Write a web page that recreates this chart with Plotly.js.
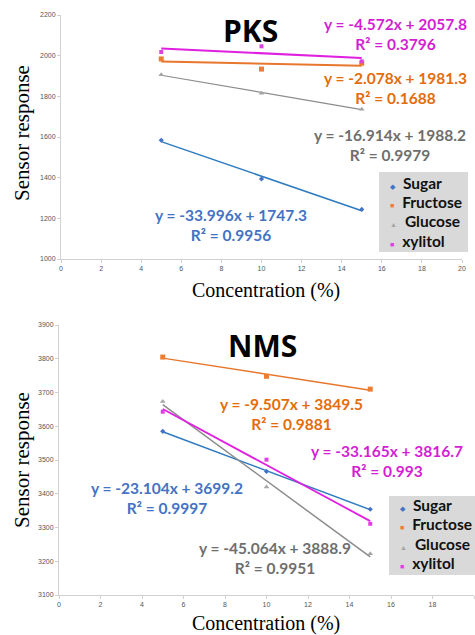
<!DOCTYPE html>
<html><head><meta charset="utf-8">
<script src="https://cdn.plot.ly/plotly-3.0.1.min.js"></script>
<style>html,body{margin:0;padding:0;background:#fff}#c{width:475px;height:635px}</style>
</head><body><div id="c"></div>
<script>
const conc = [5, 10, 15];
const seriesNames = ["Sugar", "Fructose", "Glucose", "xylitol"];
// PKS sensor
const pksSugar = [1584, 1394, 1244];
const pksFructose = [1984, 1934, 1963];
const pksGlucose = [1906, 1815, 1737];
const pksXylitol = [2018, 2046, 1972];
// NMS sensor
const nmsSugar = [3585, 3466, 3354];
const nmsFructose = [3805, 3748, 3710];
const nmsGlucose = [3673, 3420, 3222];
const nmsXylitol = [3643, 3501, 3311];
// trendline equation labels
const pksEq = ["y = -33.996x + 1747.3<br>R² = 0.9956", "y = -2.078x + 1981.3<br>R² = 0.1688", "y = -16.914x + 1988.2<br>R² = 0.9979", "y = -4.572x + 2057.8<br>R² = 0.3796"];
const nmsEq = ["y = -23.104x + 3699.2<br>R² = 0.9997", "y = -9.507x + 3849.5<br>R² = 0.9881", "y = -45.064x + 3888.9<br>R² = 0.9951", "y = -33.165x + 3816.7<br>R² = 0.993"];
const xTicks = [0, 2, 4, 6, 8, 10, 12, 14, 16, 18, 20];

const markerCol = ["#4472C4", "#ED7D31", "#A5A5A5", "#E040E0"];
const lineCol = ["#2E7BBF", "#E8772E", "#8C8C8C", "#E020E0"];
const textCol = ["#4472C4", "#E46C0A", "#6E6E6E", "#D41ED4"];
const symbols = ["diamond", "square", "triangle-up", "square"];
const legendGlyph = ["◆", "■", "▲", "■"];
const msize = [4, 5, 5, 4];

function fit(x, y) {
  const n = x.length;
  const mx = x.reduce((a, b) => a + b) / n, my = y.reduce((a, b) => a + b) / n;
  let sxy = 0, sxx = 0;
  for (let i = 0; i < n; i++) { sxy += (x[i] - mx) * (y[i] - my); sxx += (x[i] - mx) ** 2; }
  const m = sxy / sxx; return [m, my - m * mx];
}

const traces = [];
function addSet(data, xa, ya, widths) {
  data.forEach((y, i) => {
    const [m, b] = fit(conc, y);
    const xs = [Math.min(...conc), Math.max(...conc)];
    traces.push({x: xs, y: xs.map(v => m * v + b), xaxis: xa, yaxis: ya, mode: "lines",
      line: {color: lineCol[i], width: widths[i]}, showlegend: false, hoverinfo: "skip"});
  });
  data.forEach((y, i) => {
    traces.push({x: conc, y: y, xaxis: xa, yaxis: ya, mode: "markers", name: seriesNames[i], showlegend: false,
      marker: {symbol: symbols[i], size: msize[i], color: markerCol[i]}});
  });
}
addSet([pksSugar, pksFructose, pksGlucose, pksXylitol], "x", "y", [1.5, 2, 1.2, 2]);
addSet([nmsSugar, nmsFructose, nmsGlucose, nmsXylitol], "x2", "y2", [1.5, 1.5, 1.5, 1.8]);

const axBase = () => ({showgrid: false, zeroline: false, showline: true, linecolor: "#d0d0d0", linewidth: 1,
  ticks: "outside", ticklen: 3, tickcolor: "#d0d0d0", tickfont: {size: 7, color: "#555", family: "Liberation Sans"}});

function txt(text, xp, yp, font, extra) {
  return Object.assign({text: text, x: xp / 475, y: 1 - yp / 635, xref: "paper", yref: "paper", showarrow: false,
    xanchor: "center", yanchor: "middle", align: "center", font: font}, extra || {});
}
const eqFont = c => ({family: "Lato", size: 15.5, color: c, weight: "bold"});
const serif = s => ({family: "Liberation Serif", size: s, color: "#000"});
const titleFont = () => ({family: "Open Sans", size: 30, color: "#000"});
const ann = [
  txt("<b>PKS</b>", 250, 30, titleFont()),
  txt("<b>NMS</b>", 262, 345, titleFont()),
  txt("<b>" + pksEq[3] + "</b>", 395, 34, eqFont(textCol[3])),
  txt("<b>" + pksEq[1] + "</b>", 395, 88, eqFont(textCol[1])),
  txt("<b>" + pksEq[2] + "</b>", 390, 145, eqFont(textCol[2])),
  txt("<b>" + pksEq[0] + "</b>", 231, 225, eqFont(textCol[0])),
  txt("<b>" + nmsEq[1] + "</b>", 291, 414, eqFont(textCol[1])),
  txt("<b>" + nmsEq[3] + "</b>", 387, 461, eqFont(textCol[3])),
  txt("<b>" + nmsEq[0] + "</b>", 167, 498, eqFont(textCol[0])),
  txt("<b>" + nmsEq[2] + "</b>", 275, 558, eqFont(textCol[2])),
  txt("Sensor response", 22, 133, serif(21), {textangle: -90}),
  txt("Sensor response", 22, 460, serif(21), {textangle: -90}),
  txt("Concentration (%)", 266, 290, serif(20)),
  txt("Concentration (%)", 266, 623, serif(20))
];
// legend boxes (drawn as shapes + text, matching the reference's compact Excel legends)
const shapes = [
  {type: "rect", xref: "paper", yref: "paper", x0: 379 / 475, x1: 468 / 475, y0: 1 - 252 / 635, y1: 1 - 172 / 635,
    fillcolor: "#d9d9d9", line: {width: 0}, layer: "below"},
  {type: "rect", xref: "paper", yref: "paper", x0: 389 / 475, x1: 1, y0: 1 - 575 / 635, y1: 1 - 496 / 635,
    fillcolor: "#d9d9d9", line: {width: 0}, layer: "below"}
];
function legendEntries(x0, yStart, step) {
  seriesNames.forEach((n, i) => {
    ann.push({text: "<span style='color:" + markerCol[i] + ";font-size:7px'>" + legendGlyph[i] + "</span>  <b>" + n + "</b>",
      x: x0 / 475, y: 1 - (yStart + i * step) / 635, xref: "paper", yref: "paper", showarrow: false,
      xanchor: "left", yanchor: "middle", align: "left", font: {family: "Lato", size: 15.5, color: "#111"}});
  });
}
legendEntries(388, 183, 19.2);
legendEntries(398, 505, 19.3);

const layout = {
  width: 475, height: 635, margin: {l: 0, r: 0, t: 0, b: 0}, paper_bgcolor: "#fff", plot_bgcolor: "rgba(0,0,0,0)",
  xaxis: Object.assign(axBase(), {domain: [61 / 475, 462 / 475], range: [0, 20], tickvals: xTicks, anchor: "y"}),
  yaxis: Object.assign(axBase(), {domain: [1 - 259 / 635, 1 - 15 / 635], range: [1000, 2200], dtick: 200, anchor: "x"}),
  xaxis2: Object.assign(axBase(), {domain: [59 / 475, 474 / 475], range: [0, 20], tickvals: xTicks, anchor: "y2"}),
  yaxis2: Object.assign(axBase(), {domain: [1 - 595 / 635, 1 - 325 / 635], range: [3100, 3900], dtick: 100, anchor: "x2"}),
  annotations: ann, shapes: shapes, showlegend: false
};
Plotly.newPlot("c", traces, layout, {displayModeBar: false, staticPlot: true});
</script>
</body></html>
